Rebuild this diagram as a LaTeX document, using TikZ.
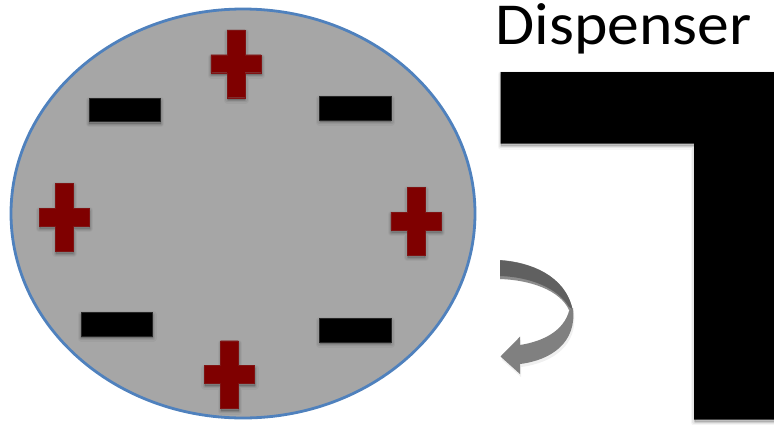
\documentclass[tikz,border=0pt]{standalone}
\usepackage{fontspec}
\setmainfont{Carlito}
\tikzset{
  softshadow/.style={
    preaction={draw=black,fill=black,opacity=.04,line width=7pt,line join=round,transform canvas={xshift=0.5pt,yshift=-2.5pt}},
    preaction={draw=black,fill=black,opacity=.06,line width=4.5pt,line join=round,transform canvas={xshift=0.5pt,yshift=-2.5pt}},
    preaction={draw=black,fill=black,opacity=.08,line width=2pt,line join=round,transform canvas={xshift=0.5pt,yshift=-2.5pt}}},
  disc/.style={fill=discgray,draw=discblue,line width=2.8pt},
  plusmark/.style={fill=plusred,draw=plusred!85!gray,line width=.3pt,softshadow},
  minusmark/.style={fill=black,draw=black!85,line width=.3pt,softshadow},
  dispenser/.style={fill=black,softshadow},
  pluspath/.style={insert path={
    (#1) ++(-8.9,-33.8) -- ++(17.8,0) -- ++(0,24.8) -- ++(16.2,0) -- ++(0,18) -- ++(-16.2,0)
    -- ++(0,25) -- ++(-17.8,0) -- ++(0,-25) -- ++(-16.2,0) -- ++(0,-18) -- ++(16.2,0) -- cycle}},
  minuspath/.style={insert path={(#1) ++(-35.8,-11.7) rectangle ++(71.6,23.4)}}
}
\definecolor{discgray}{HTML}{A6A6A6}
\definecolor{discblue}{HTML}{4F81BD}
\definecolor{plusred}{HTML}{7F0000}
\definecolor{arrowdark}{HTML}{606060}
\definecolor{arrowmid}{HTML}{808080}
\definecolor{arrowedge}{HTML}{8C8C8C}
\begin{document}
\begin{tikzpicture}[x=1pt,y=-1pt]
\useasboundingbox (0,0) rectangle (774,424);
\fill[white] (0,0) rectangle (774,424);
% disc
\draw[disc] (243,213.5) ellipse [x radius=232, y radius=204.5];
% plus marks
\draw[plusmark,pluspath={236,63.7}];
\draw[plusmark,pluspath={64.2,217}];
\draw[plusmark,pluspath={416,221}];
\draw[plusmark,pluspath={229.5,374.5}];
% minus marks
\draw[minusmark,minuspath={124.5,109.7}];
\draw[minusmark,minuspath={355,108}];
\draw[minusmark,minuspath={116.7,324}];
\draw[minusmark,minuspath={355,330}];
% dispenser
\node[font=\fontsize{59.5}{62}\selectfont,inner sep=0pt,anchor=base west,xscale=1.07] (title) at (495.5,44) {Dispenser};
\fill[dispenser] (500.5,72) -- (774,72) -- (774,419.5) -- (694,419.5) -- (694,143.5) -- (500.5,143.5) -- cycle;
% curved arrow: soft shadow of the lower part
\fill[black,opacity=.06,transform canvas={xshift=1pt,yshift=-3pt}]
  (573,310) .. controls (577,342) and (552,360) .. (520,364) -- (520,374) -- (500.5,356.5) -- (520,336.7) -- (520,345)
  .. controls (545,341) and (564,330) .. (569,311) -- cycle;
% band
\fill[arrowedge] (500,260) .. controls (530,262) and (565,275) .. (572.7,310)
  -- (569,310) .. controls (560,290) and (530,280) .. (500,279) -- cycle;
\fill[arrowdark] (500,260.3) .. controls (530,262.3) and (565,275.3) .. (572.4,309)
  -- (569,307) .. controls (558,288) and (530,277) .. (500,276) -- cycle;
% lower part with head
\fill[arrowmid] (573,308) .. controls (577,342) and (552,360) .. (520,364) -- (520,374) -- (500.5,356.5) -- (520,336.7) -- (520,345)
  .. controls (545,341) and (564,330) .. (569.2,310.5) -- cycle;
\end{tikzpicture}
\end{document}
